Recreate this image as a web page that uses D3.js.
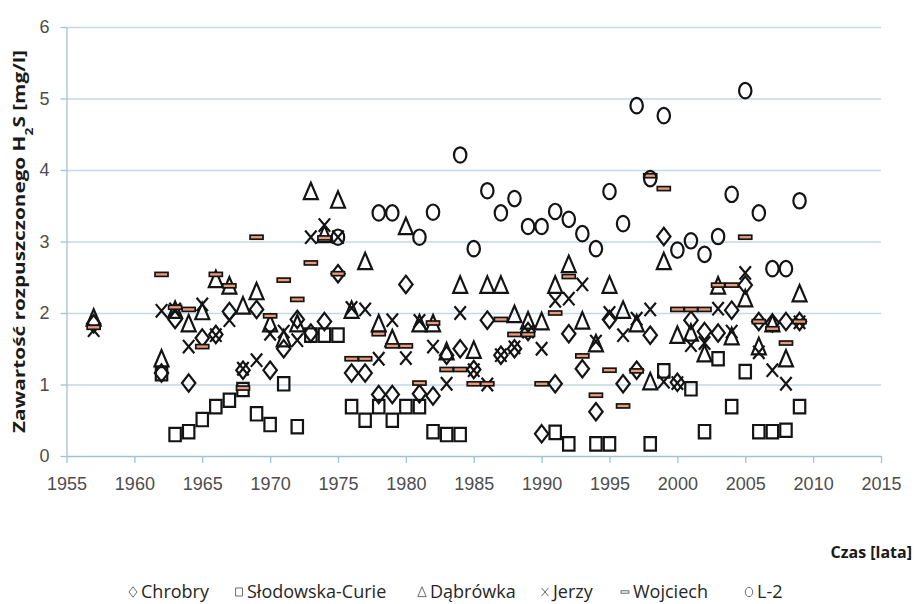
<!DOCTYPE html>
<html>
<head>
<meta charset="utf-8">
<script src="https://cdn.jsdelivr.net/npm/d3@7"></script>
<style>
  body { margin: 0; background: #fff; }
  svg { display: block; font-family: "Open Sans", sans-serif; }
</style>
</head>
<body>
<div id="chart"></div>
<script>
// Series values [year, mg/l]
const chrobry = [
  [1957, 1.85], [1962, 1.16], [1963, 1.91], [1964, 1.02], [1965, 1.65], [1966, 1.70], [1967, 2.02],
  [1968, 1.20], [1969, 2.05], [1970, 1.20], [1971, 1.50], [1972, 1.91], [1973, 1.72], [1974, 1.88],
  [1975, 2.55], [1976, 1.16], [1977, 1.16], [1978, 0.86], [1979, 0.86], [1980, 2.40], [1981, 0.87],
  [1982, 0.84], [1983, 1.41], [1984, 1.50], [1985, 1.21], [1986, 1.90], [1987, 1.41], [1988, 1.50],
  [1989, 1.74], [1990, 0.31], [1991, 1.01], [1992, 1.71], [1993, 1.22], [1994, 0.62], [1995, 1.91],
  [1996, 1.01], [1997, 1.20], [1998, 1.69], [1999, 3.07], [2000, 1.03], [2001, 1.90], [2002, 1.74],
  [2003, 1.72], [2004, 2.04], [2005, 2.39], [2006, 1.88], [2007, 1.86], [2008, 1.88], [2009, 1.88]
];
const slodowska = [
  [1962, 1.15], [1963, 0.30], [1964, 0.34], [1965, 0.51], [1966, 0.69], [1967, 0.78], [1968, 0.93],
  [1969, 0.59], [1970, 0.44], [1971, 1.01], [1972, 0.41], [1973, 1.69], [1974, 1.69], [1975, 1.69],
  [1976, 0.69], [1977, 0.50], [1978, 0.69], [1979, 0.50], [1980, 0.69], [1981, 0.69], [1982, 0.34],
  [1983, 0.30], [1984, 0.30], [1991, 0.33], [1992, 0.17], [1994, 0.17], [1995, 0.17], [1998, 0.17],
  [1999, 1.19], [2001, 0.94], [2002, 0.34], [2003, 1.36], [2004, 0.69], [2005, 1.18], [2006, 0.34],
  [2007, 0.34], [2008, 0.36], [2009, 0.69]
];
const dabrowka = [
  [1957, 1.93], [1962, 1.36], [1963, 2.04], [1964, 1.85], [1965, 2.02], [1966, 2.47], [1967, 2.38],
  [1968, 2.10], [1969, 2.30], [1970, 1.85], [1971, 1.64], [1972, 1.85], [1973, 3.70], [1974, 3.10],
  [1975, 3.58], [1976, 2.04], [1977, 2.72], [1978, 1.85], [1979, 1.64], [1980, 3.21], [1981, 1.85],
  [1982, 1.85], [1983, 1.46], [1984, 2.39], [1985, 1.48], [1986, 2.39], [1987, 2.39], [1988, 1.98],
  [1989, 1.89], [1990, 1.88], [1991, 2.39], [1992, 2.68], [1993, 1.89], [1994, 1.57], [1995, 2.39],
  [1996, 2.04], [1997, 1.85], [1998, 1.04], [1999, 2.72], [2000, 1.69], [2001, 1.72], [2002, 1.43],
  [2003, 2.38], [2004, 1.67], [2005, 2.20], [2006, 1.53], [2007, 1.85], [2008, 1.36], [2009, 2.27]
];
const jerzy = [
  [1957, 1.76], [1962, 2.03], [1963, 2.05], [1964, 1.53], [1965, 2.12], [1966, 1.69], [1967, 1.90],
  [1968, 1.22], [1969, 1.34], [1970, 1.71], [1971, 1.74], [1972, 1.62], [1973, 3.06], [1974, 3.23],
  [1975, 3.06], [1976, 2.07], [1977, 2.05], [1978, 1.36], [1979, 1.90], [1980, 1.37], [1981, 1.89],
  [1982, 1.53], [1983, 1.01], [1984, 2.00], [1985, 1.20], [1986, 1.00], [1987, 1.41], [1988, 1.52],
  [1989, 1.74], [1990, 1.50], [1991, 2.17], [1992, 2.20], [1993, 2.40], [1994, 1.60], [1995, 2.00],
  [1996, 1.69], [1997, 1.92], [1998, 2.05], [1999, 1.04], [2000, 1.02], [2001, 1.55], [2002, 1.58],
  [2003, 2.06], [2004, 1.74], [2005, 2.56], [2006, 1.45], [2007, 1.20], [2008, 1.01], [2009, 1.87]
];
const wojciech = [
  [1957, 1.80], [1962, 2.54], [1963, 2.08], [1964, 2.05], [1965, 1.53], [1966, 2.54], [1967, 2.38],
  [1968, 0.95], [1969, 3.06], [1970, 1.96], [1971, 2.46], [1972, 2.19], [1973, 2.70], [1974, 3.05],
  [1975, 2.55], [1976, 1.36], [1977, 1.36], [1978, 1.71], [1979, 1.54], [1980, 1.54], [1981, 1.02],
  [1982, 1.86], [1983, 1.21], [1984, 1.21], [1985, 1.01], [1986, 1.01], [1987, 1.91], [1988, 1.70],
  [1989, 1.70], [1990, 1.01], [1991, 2.00], [1992, 2.51], [1993, 1.40], [1994, 0.85], [1995, 1.20],
  [1996, 0.70], [1997, 1.19], [1998, 3.92], [1999, 3.74], [2000, 2.05], [2001, 2.05], [2002, 2.05],
  [2003, 2.39], [2004, 2.39], [2005, 3.06], [2006, 1.88], [2007, 1.78], [2008, 1.58], [2009, 1.88]
];
const l2 = [
  [1975, 3.06], [1978, 3.40], [1979, 3.40], [1981, 3.06], [1982, 3.41], [1984, 4.21], [1985, 2.90],
  [1986, 3.71], [1987, 3.40], [1988, 3.60], [1989, 3.21], [1990, 3.21], [1991, 3.42], [1992, 3.31],
  [1993, 3.11], [1994, 2.90], [1995, 3.70], [1996, 3.25], [1997, 4.90], [1998, 3.88], [1999, 4.76],
  [2000, 2.88], [2001, 3.01], [2002, 2.82], [2003, 3.07], [2004, 3.66], [2005, 5.11], [2006, 3.40],
  [2007, 2.62], [2008, 2.62], [2009, 3.57]
];

const seriesNames = ['Chrobry', 'Słodowska-Curie', 'Dąbrówka', 'Jerzy', 'Wojciech', 'L-2'];
const seriesShapes = ['diamond', 'square', 'triangle', 'cross', 'dash', 'circle'];
const xTicks = [1955, 1960, 1965, 1970, 1975, 1980, 1985, 1990, 1995, 2000, 2005, 2010, 2015];
const yTicks = [0, 1, 2, 3, 4, 5, 6];

const series = [chrobry, slodowska, dabrowka, jerzy, wojciech, l2].map((values, i) => ({
  name: seriesNames[i],
  shape: seriesShapes[i],
  values
}));

const width = 916;
const height = 604;
const margin = { top: 27, right: 35, bottom: 148, left: 66.5 };

const gridColor = '#c3d9e6';
const axisColor = '#9fc2d6';
const markColor = '#141414';

// marker outlines, a bit taller than wide like in the source picture
function drawMarker(g, shape, s) {
  if (shape === 'circle') {
    g.append('ellipse').attr('rx', 6.2 * s).attr('ry', 7.7 * s);
  } else if (shape === 'dash') {
    g.append('rect')
      .attr('x', -6.5 * s).attr('y', -2 * s)
      .attr('width', 13 * s).attr('height', 4 * s)
      .attr('fill', s < 1 ? 'none' : '#ee9a78')
      .attr('stroke-width', s < 1 ? 1 : 1.7);
  } else {
    const paths = {
      diamond: `M0,${-8.7 * s}L${6.7 * s},0L0,${8.7 * s}L${-6.7 * s},0Z`,
      square: `M${-5.7 * s},${-6.7 * s}H${5.7 * s}V${6.7 * s}H${-5.7 * s}Z`,
      triangle: `M0,${-8.7 * s}L${7 * s},${7.7 * s}H${-7 * s}Z`,
      cross: `M${-5.7 * s},${-6.7 * s}L${5.7 * s},${6.7 * s}M${5.7 * s},${-6.7 * s}L${-5.7 * s},${6.7 * s}`
    };
    g.append('path').attr('d', paths[shape]);
  }
}

const svg = d3.select('#chart')
  .append('svg')
  .attr('width', width)
  .attr('height', height);

svg.append('rect').attr('width', width).attr('height', height).attr('fill', '#fff');

const xScale = d3.scaleLinear()
  .domain([1955, 2015])
  .range([margin.left, width - margin.right]);

const yScale = d3.scaleLinear()
  .domain([0, 6])
  .range([height - margin.bottom, margin.top]);

// gridlines
svg.append('g')
  .attr('transform', `translate(${margin.left},0)`)
  .call(d3.axisLeft(yScale).tickValues(yTicks.slice(1)).tickFormat('')
    .tickSize(-(width - margin.right - margin.left)).tickSizeOuter(0))
  .call((g) => g.select('.domain').remove())
  .call((g) => g.selectAll('line').attr('stroke', gridColor).attr('stroke-width', 1.3));

// y axis
svg.append('g')
  .attr('transform', `translate(${margin.left},0)`)
  .call(d3.axisLeft(yScale).tickValues(yTicks).tickFormat(d3.format('d'))
    .tickSize(6).tickSizeOuter(0).tickPadding(11))
  .call((g) => g.select('.domain').attr('stroke', axisColor).attr('stroke-width', 1.3))
  .call((g) => g.selectAll('line').attr('stroke', axisColor).attr('stroke-width', 1.3))
  .call((g) => g.selectAll('text').attr('fill', '#4d4d4d').style('font-size', '18px'));

// x axis
svg.append('g')
  .attr('transform', `translate(0,${yScale(0)})`)
  .call(d3.axisBottom(xScale).tickValues(xTicks).tickFormat(d3.format('d'))
    .tickSize(7).tickSizeOuter(0).tickPadding(14))
  .call((g) => g.select('.domain').attr('stroke', axisColor).attr('stroke-width', 1.3))
  .call((g) => g.selectAll('line').attr('stroke', axisColor).attr('stroke-width', 1.3))
  .call((g) => g.selectAll('text').attr('fill', '#4d4d4d').style('font-size', '18px'));

// axis titles (the source is stretched vertically, so the rotated title is too)
svg.append('text')
  .attr('transform', 'translate(25,241.5) rotate(-90)')
  .attr('text-anchor', 'middle')
  .attr('fill', '#1a1a1a')
  .attr('textLength', 383)
  .attr('lengthAdjust', 'spacingAndGlyphs')
  .style('font-size', '16.5px')
  .style('font-weight', 'bold')
  .call((t) => {
    t.append('tspan').text('Zawartość rozpuszczonego H');
    t.append('tspan').attr('baseline-shift', 'sub').style('font-size', '11px').text('2');
    t.append('tspan').text('S [mg/l]');
  });

svg.append('text')
  .attr('x', 912)
  .attr('y', 558)
  .attr('text-anchor', 'end')
  .attr('fill', '#1a1a1a')
  .style('font-size', '16px')
  .style('font-weight', 'bold')
  .text('Czas [lata]');

// points
const layers = svg.append('g').attr('class', 'series');

series.forEach((s) => {
  layers.append('g')
    .attr('class', 'dots')
    .selectAll('g')
    .data(s.values)
    .join('g')
    .attr('transform', (d) => `translate(${xScale(d[0])},${yScale(d[1])})`)
    .attr('fill', 'none')
    .attr('stroke', markColor)
    .attr('stroke-width', 2.2)
    .each(function () {
      drawMarker(d3.select(this), s.shape, 1);
    });
});

// legend
const legendX = [133, 239, 422, 545, 625, 749];
const legend = svg.append('g').attr('class', 'legend');

series.forEach((s, i) => {
  const item = legend.append('g').attr('transform', `translate(${legendX[i]},592)`);
  const m = item.append('g')
    .attr('fill', 'none')
    .attr('stroke', '#6b6b6b')
    .attr('stroke-width', 1);
  drawMarker(m, s.shape, 0.6);
  item.append('text')
    .attr('x', 8)
    .attr('y', 6)
    .attr('fill', '#262626')
    .style('font-size', '18px')
    .text(s.name);
});
</script>
</body>
</html>
